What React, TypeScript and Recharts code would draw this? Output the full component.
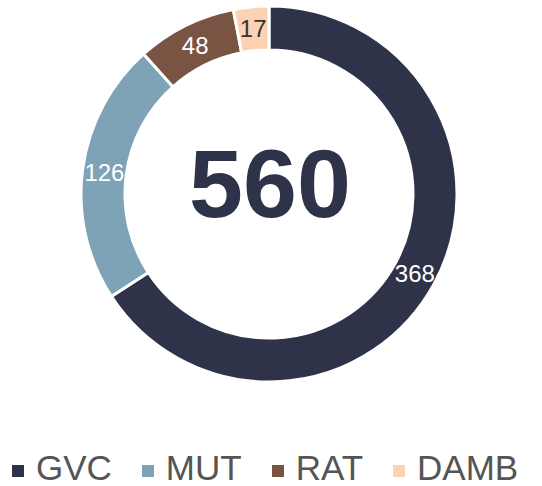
import { PieChart, Pie, Cell, Legend } from "recharts";

const categories = ["GVC", "MUT", "RAT", "DAMB"];
const counts = [368, 126, 48, 17];
const totalLabel = "560";

const colors = ["#2e3349", "#7ea3b7", "#7a5443", "#fdd1b4"];
const labelColors = ["#ffffff", "#ffffff", "#ffffff", "#333333"];

const data = categories.map((name, i) => ({ name, value: counts[i] }));

const FONT = "'Liberation Sans', Arial, Helvetica, sans-serif";
const RAD = Math.PI / 180;

function renderLabel(props: any) {
  const { cx, cy, innerRadius, outerRadius, midAngle, index, value } = props;
  const r = (innerRadius + outerRadius) / 2;
  const x = cx + r * Math.cos(-midAngle * RAD);
  const y = cy + r * Math.sin(-midAngle * RAD);
  return (
    <text
      x={x}
      y={y}
      fill={labelColors[index]}
      textAnchor="middle"
      dominantBaseline="central"
      fontSize={24}
      fontFamily={FONT}
    >
      {value}
    </text>
  );
}

function renderLegend() {
  return (
    <div
      style={{
        display: "flex",
        alignItems: "center",
        fontFamily: FONT,
        fontSize: 35,
        lineHeight: "40px",
        color: "#555555",
        paddingLeft: 12,
      }}
    >
      {categories.map((name, i) => (
        <div
          key={name}
          style={{ display: "flex", alignItems: "center", marginRight: 30 }}
        >
          <span
            style={{
              display: "inline-block",
              width: 12,
              height: 12,
              background: colors[i],
              marginRight: 12,
              marginTop: 6,
            }}
          />
          <span>{name}</span>
        </div>
      ))}
    </div>
  );
}

export default function App() {
  return (
    <div style={{ position: "absolute", left: 0, top: 0, background: "#fff" }}>
      <PieChart
        width={542}
        height={486}
        margin={{ top: 0, right: 0, bottom: 0, left: 0 }}
      >
        <Pie
          data={data}
          dataKey="value"
          nameKey="name"
          cx={269}
          cy={194}
          innerRadius={144}
          outerRadius={188}
          startAngle={90}
          endAngle={-270}
          stroke="#ffffff"
          strokeWidth={3}
          label={renderLabel}
          labelLine={false}
          isAnimationActive={false}
        >
          {data.map((d, i) => (
            <Cell key={d.name} fill={colors[i]} />
          ))}
        </Pie>
        <text
          x={270}
          y={217}
          textAnchor="middle"
          fontSize={97}
          fontWeight="bold"
          fontFamily={FONT}
          fill="#2e3349"
        >
          {totalLabel}
        </text>
        <Legend
          content={renderLegend}
          wrapperStyle={{ left: 0, top: 448, width: 542 }}
        />
      </PieChart>
    </div>
  );
}
